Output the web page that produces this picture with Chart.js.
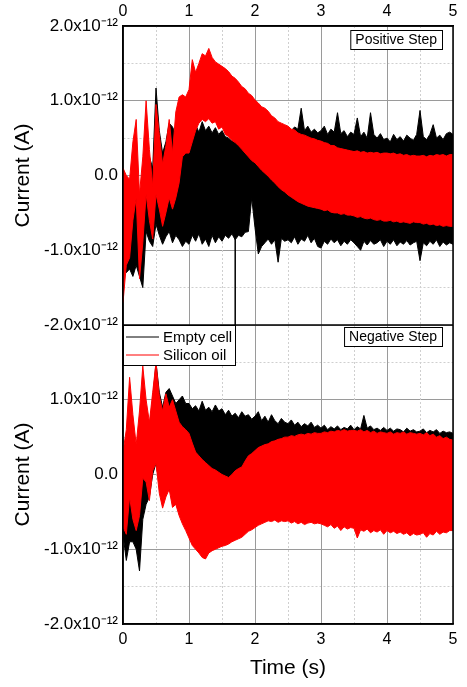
<!DOCTYPE html>
<html lang="en">
<head>
<meta charset="UTF-8">
<title>Current vs time</title>
<script src="https://cdn.jsdelivr.net/npm/chart.js"></script>
<style>
  html, body { margin: 0; padding: 0; background: #fff; }
</style>
</head>
<body>
<canvas id="grafico" width="467" height="687"></canvas>
<script>
// time (s)
const tempo = [
  0.00, 0.05, 0.10, 0.15, 0.20, 0.25, 0.30, 0.35, 0.40, 0.45,
  0.50, 0.55, 0.60, 0.65, 0.70, 0.75, 0.80, 0.85, 0.90, 0.95,
  1.00, 1.05, 1.10, 1.15, 1.20, 1.25, 1.30, 1.35, 1.40, 1.45,
  1.50, 1.55, 1.60, 1.65, 1.70, 1.75, 1.80, 1.85, 1.90, 1.95,
  2.00, 2.05, 2.10, 2.15, 2.20, 2.25, 2.30, 2.35, 2.40, 2.45,
  2.50, 2.55, 2.60, 2.65, 2.70, 2.75, 2.80, 2.85, 2.90, 2.95,
  3.00, 3.05, 3.10, 3.15, 3.20, 3.25, 3.30, 3.35, 3.40, 3.45,
  3.50, 3.55, 3.60, 3.65, 3.70, 3.75, 3.80, 3.85, 3.90, 3.95,
  4.00, 4.05, 4.10, 4.15, 4.20, 4.25, 4.30, 4.35, 4.40, 4.45,
  4.50, 4.55, 4.60, 4.65, 4.70, 4.75, 4.80, 4.85, 4.90, 4.95,
  5.00
];

// currents in units of 1e-12 A: upper / lower edge of each noisy trace
// positive step - empty cell
const posEmptyHi = [
  0.05, -0.10, -0.20, -0.10, 0.05, -0.30, -0.20, 0.30, 0.25, 0.10,
  1.17, 0.60, 0.30, 0.45, 0.70, 0.65, 0.55, 0.50, 0.55, 0.62,
  0.70, 0.62, 0.68, 0.58, 0.72, 0.60, 0.66, 0.57, 0.64, 0.55,
  0.60, 0.52, 0.50, 0.46, 0.48, 0.42, 0.40, 0.38, 0.36, 0.34,
  0.35, 0.33, 0.38, 0.40, 0.42, 0.45, 0.48, 0.50, 0.52, 0.55,
  0.55, 0.60, 0.65, 0.62, 0.90, 0.60, 0.66, 0.58, 0.62, 0.57,
  0.60, 0.66, 0.55, 0.62, 0.58, 0.84, 0.56, 0.60, 0.52, 0.58,
  0.55, 0.77, 0.52, 0.58, 0.50, 0.84, 0.55, 0.50, 0.56, 0.48,
  0.50, 0.45, 0.55, 0.48, 0.52, 0.46, 0.54, 0.50, 0.47, 0.55,
  0.87, 0.52, 0.48, 0.55, 0.68, 0.50, 0.54, 0.48, 0.56, 0.58,
  0.55
];
const posEmptyLo = [
  -1.20, -1.30, -1.25, -1.35, -1.20, -1.35, -1.50, -0.75, -0.88, -0.95,
  -0.65, -0.80, -0.92, -0.82, -0.75, -0.90, -0.80, -0.86, -0.95, -0.88,
  -0.92, -0.80, -0.88, -0.78, -0.92, -0.85, -0.95, -0.80, -0.90, -0.82,
  -0.88, -0.80, -0.84, -0.78, -0.86, -0.80, -0.82, -0.76, -0.75, -0.30,
  -0.70, -1.05, -0.95, -0.90, -0.85, -0.92, -0.86, -1.16, -0.84, -0.88,
  -0.86, -0.90, -0.82, -0.92, -0.85, -0.88, -0.80, -0.90, -0.84, -0.95,
  -0.97, -0.88, -0.92, -0.85, -0.90, -0.86, -0.94, -0.88, -0.92, -0.86,
  -0.90, -0.95, -1.00, -0.88, -0.93, -0.87, -0.92, -0.90, -0.86, -0.95,
  -0.88, -0.92, -0.86, -0.94, -0.89, -0.92, -0.87, -0.93, -0.90, -0.88,
  -1.14, -0.90, -0.94, -0.88, -0.92, -0.86, -0.95, -0.89, -0.93, -0.90,
  -0.92
];
// single spike of the empty cell trace at 1.7 s
const glitchT = [1.70, 1.70];
const glitchV = [-0.85, -2.00];

// positive step - silicon oil
const posOilHi = [
  0.10, 0.00, -0.05, 0.45, 0.75, -0.25, 0.25, 1.00, 0.35, -0.15,
  0.95, 0.55, 0.15, 0.40, 0.75, 0.30, 0.85, 1.05, 1.08, 1.05,
  1.15, 1.55, 1.38, 1.50, 1.63, 1.60, 1.70, 1.58, 1.52, 1.49,
  1.46, 1.43, 1.39, 1.33, 1.30, 1.25, 1.19, 1.16, 1.10, 1.07,
  1.01, 0.97, 0.92, 0.90, 0.86, 0.80, 0.77, 0.72, 0.70, 0.68,
  0.66, 0.62, 0.61, 0.57, 0.55, 0.54, 0.52, 0.50, 0.49, 0.47,
  0.46, 0.44, 0.43, 0.40, 0.40, 0.37, 0.36, 0.35, 0.34, 0.33,
  0.32, 0.33, 0.31, 0.32, 0.30, 0.31, 0.30, 0.31, 0.29, 0.30,
  0.30, 0.29, 0.30, 0.28, 0.29, 0.27, 0.28, 0.26, 0.27, 0.26,
  0.26, 0.27, 0.25, 0.27, 0.26, 0.28, 0.27, 0.28, 0.26, 0.28,
  0.28
];
const posOilLo = [
  -1.70, -1.20, -1.10, -0.60, -0.30, -1.38, -0.90, -0.25, -0.60, -0.85,
  -0.25, -0.45, -0.68, -0.50, -0.30, -0.45, -0.30, -0.10, 0.25, 0.30,
  0.30, 0.45, 0.60, 0.70, 0.75, 0.72, 0.76, 0.70, 0.72, 0.62,
  0.65, 0.55, 0.52, 0.47, 0.44, 0.40, 0.35, 0.30, 0.25, 0.20,
  0.17, 0.12, 0.07, 0.03, -0.01, -0.06, -0.10, -0.15, -0.19, -0.22,
  -0.26, -0.29, -0.32, -0.35, -0.37, -0.39, -0.41, -0.42, -0.43, -0.44,
  -0.45, -0.47, -0.46, -0.49, -0.50, -0.50, -0.52, -0.51, -0.53, -0.53,
  -0.54, -0.56, -0.55, -0.57, -0.58, -0.57, -0.59, -0.60, -0.59, -0.61,
  -0.61, -0.60, -0.62, -0.61, -0.63, -0.62, -0.63, -0.64, -0.62, -0.63,
  -0.63, -0.65, -0.64, -0.66, -0.65, -0.67, -0.66, -0.68, -0.67, -0.68,
  -0.68
];

// negative step - empty cell
const negEmptyHi = [
  0.30, 0.20, 0.60, 0.50, 0.20, 0.10, 0.80, 0.70, 0.60, 1.00,
  1.50, 1.10, 0.90, 1.10, 1.15, 1.05, 0.95, 1.00, 1.05, 0.95,
  0.95, 0.88, 0.92, 0.85, 0.98, 0.86, 0.90, 0.84, 0.93, 0.85,
  0.88, 0.80, 0.86, 0.78, 0.82, 0.76, 0.84, 0.78, 0.80, 0.74,
  0.78, 0.84, 0.72, 0.78, 0.70, 0.80, 0.72, 0.68, 0.75, 0.70,
  0.68, 0.73, 0.66, 0.70, 0.64, 0.68, 0.65, 0.70, 0.63, 0.66,
  0.62, 0.66, 0.60, 0.64, 0.61, 0.65, 0.60, 0.63, 0.61, 0.66,
  0.60, 0.64, 0.61, 0.79, 0.62, 0.65, 0.60, 0.62, 0.59, 0.63,
  0.59, 0.62, 0.58, 0.61, 0.60, 0.57, 0.62, 0.58, 0.60, 0.57,
  0.58, 0.61, 0.56, 0.59, 0.57, 0.60, 0.55, 0.58, 0.56, 0.57,
  0.55
];
const negEmptyLo = [
  -0.80, -1.15, -0.90, -0.90, -1.00, -1.29, -0.60, -0.40, -0.30, 0.00,
  0.15, -0.10, -0.30, -0.25, -0.20, -0.30, -0.40, -0.40, -0.45, -0.50,
  -0.50, -0.55, -0.52, -0.55, -0.50, -0.52, -0.55, -0.50, -0.53, -0.50,
  -0.52, -0.55, -0.50, -0.53, -0.55, -0.52, -0.54, -0.56, -0.55, -0.57,
  -0.56, -0.58, -0.55, -0.57, -0.58, -0.56, -0.59, -0.57, -0.58, -0.60,
  -0.58, -0.60, -0.59, -0.61, -0.60, -0.58, -0.61, -0.60, -0.62, -0.60,
  -0.62, -0.60, -0.63, -0.61, -0.64, -0.62, -0.63, -0.65, -0.62, -0.64,
  -0.63, -0.65, -0.64, -0.66, -0.63, -0.65, -0.67, -0.64, -0.66, -0.65,
  -0.66, -0.68, -0.65, -0.67, -0.69, -0.66, -0.68, -0.70, -0.67, -0.69,
  -0.68, -0.70, -0.72, -0.69, -0.71, -0.70, -0.73, -0.75, -0.72, -0.74,
  -0.71
];

// negative step - silicon oil
const negOilHi = [
  0.30, 0.60, 1.30, 0.80, 0.40, 0.85, 1.45, 1.00, 0.70, 1.10,
  1.50, 1.05, 0.85, 1.08, 0.90, 1.00, 0.85, 0.70, 0.64, 0.60,
  0.55, 0.42, 0.30, 0.25, 0.20, 0.16, 0.12, 0.08, 0.06, 0.03,
  0.00, -0.02, -0.04, 0.00, 0.05, 0.08, 0.10, 0.18, 0.25, 0.28,
  0.32, 0.36, 0.38, 0.40, 0.41, 0.44, 0.45, 0.47, 0.48, 0.50,
  0.50, 0.52, 0.51, 0.53, 0.54, 0.53, 0.55, 0.54, 0.56, 0.55,
  0.55, 0.57, 0.56, 0.58, 0.57, 0.59, 0.58, 0.60, 0.58, 0.59,
  0.59, 0.58, 0.60, 0.57, 0.59, 0.56, 0.58, 0.55, 0.57, 0.56,
  0.55, 0.57, 0.54, 0.56, 0.55, 0.57, 0.54, 0.56, 0.55, 0.54,
  0.55, 0.53, 0.56, 0.52, 0.54, 0.50, 0.52, 0.48, 0.50, 0.47,
  0.46
];
const negOilLo = [
  -0.70, -0.80, -0.30, -0.60, -0.75, -0.55, -0.05, -0.10, -0.35, 0.05,
  0.15, -0.25, -0.45, -0.30, -0.20, -0.44, -0.40, -0.55, -0.66, -0.75,
  -0.85, -0.95, -1.00, -1.05, -1.11, -1.13, -1.05, -1.02, -1.00, -0.98,
  -0.96, -0.95, -0.93, -0.90, -0.88, -0.86, -0.84, -0.80, -0.76, -0.74,
  -0.71, -0.68, -0.66, -0.64, -0.62, -0.63, -0.61, -0.64, -0.62, -0.63,
  -0.62, -0.65, -0.63, -0.66, -0.64, -0.67, -0.65, -0.64, -0.66, -0.65,
  -0.66, -0.68, -0.70, -0.67, -0.72, -0.69, -0.75, -0.70, -0.73, -0.71,
  -0.72, -0.85, -0.74, -0.76, -0.73, -0.78, -0.75, -0.77, -0.74, -0.80,
  -0.75, -0.78, -0.76, -0.79, -0.77, -0.80, -0.78, -0.82, -0.79, -0.81,
  -0.80, -0.78, -0.84, -0.79, -0.81, -0.76, -0.80, -0.77, -0.78, -0.75,
  -0.75
];

const series = ['Empty cell', 'Silicon oil'];
const cores = ['#000000', '#ff0000'];
const fonte = 'Liberation Sans, Arial, sans-serif';

function pontos(xs, ys) {
  return xs.map((t, i) => ({x: t, y: ys[i]}));
}

// noisy trace drawn as the band between its upper and lower edge
function faixa(nome, hi, lo, cor, eixo, ordem) {
  const base = {label: nome, borderColor: cor, backgroundColor: cor, borderWidth: 1,
                xAxisID: 'x', yAxisID: eixo, order: ordem, pointRadius: 0};
  return [
    Object.assign({}, base, {data: pontos(tempo, hi), fill: '+1'}),
    Object.assign({}, base, {data: pontos(tempo, lo), fill: false})
  ];
}

function rotuloY(v) {
  if (v === 0) return '0.0';
  return v.toFixed(1) + 'x10\u207B\u00B9\u00B2';
}

function gradeCor(ctx) {
  if (!ctx.tick) return '#000';
  return Number.isInteger(ctx.tick.value) ? '#9a9a9a' : '#cfcfcf';
}
function gradeTraco(ctx) {
  if (!ctx.tick) return [];
  return Number.isInteger(ctx.tick.value) ? [] : [2, 2];
}

function eixoY(esconder2) {
  return {
    type: 'linear', axis: 'y', position: 'left', stack: 'paineis', stackWeight: 1,
    min: -2, max: 2,
    afterFit: s => { s.width = 123; },
    ticks: {
      stepSize: 0.5, autoSkip: false, padding: 5, color: '#000',
      font: {family: fonte, size: 17},
      callback: v => (!Number.isInteger(v) || (esconder2 && v === 2)) ? '' : rotuloY(v)
    },
    grid: {color: gradeCor, lineWidth: 1, drawTicks: false},
    border: {color: '#000', width: 1.5, dash: gradeTraco},
    title: {display: true, text: 'Current (A)', color: '#000',
            font: {family: fonte, size: 21}, padding: {top: 11, bottom: 0}}
  };
}

function caixaTexto(ctx, texto, direita, topo) {
  ctx.font = '14px ' + fonte;
  const w = ctx.measureText(texto).width + 10;
  const h = 19;
  ctx.fillStyle = '#fff';
  ctx.fillRect(direita - w, topo, w, h);
  ctx.strokeStyle = '#000';
  ctx.lineWidth = 1;
  ctx.strokeRect(direita - w + 0.5, topo + 0.5, w, h);
  ctx.fillStyle = '#000';
  ctx.textBaseline = 'middle';
  ctx.textAlign = 'left';
  ctx.fillText(texto, direita - w + 5, topo + h / 2 + 1);
}

const moldura = {
  id: 'moldura',
  afterDatasetsDraw(chart) {
    const {ctx, chartArea: a} = chart;
    const yTop = chart.scales.yTop, yBot = chart.scales.yBot;
    ctx.save();
    ctx.strokeStyle = '#000';
    ctx.lineWidth = 1.5;
    ctx.strokeRect(a.left, a.top, a.right - a.left, a.bottom - a.top);
    ctx.beginPath();
    ctx.moveTo(a.left, yTop.bottom);
    ctx.lineTo(a.right, yTop.bottom);
    ctx.stroke();

    caixaTexto(ctx, 'Positive Step', a.right - 11, yTop.top + 4);
    caixaTexto(ctx, 'Negative Step', a.right - 11, yBot.top + 2);

    // legend in the lower panel
    const lx = a.left, ly = yBot.top;
    ctx.fillStyle = '#fff';
    ctx.fillRect(lx, ly, 112, 40);
    ctx.strokeStyle = '#000';
    ctx.lineWidth = 1;
    ctx.strokeRect(lx + 0.5, ly + 0.5, 112, 40);
    ctx.font = '15px ' + fonte;
    ctx.textBaseline = 'middle';
    ctx.textAlign = 'left';
    series.forEach((nome, i) => {
      const yy = ly + 12 + i * 18;
      ctx.strokeStyle = cores[i];
      ctx.lineWidth = 1;
      ctx.beginPath();
      ctx.moveTo(lx + 3, yy);
      ctx.lineTo(lx + 36, yy);
      ctx.stroke();
      ctx.fillStyle = '#000';
      ctx.fillText(nome, lx + 40, yy + 1);
    });
    ctx.restore();
  }
};

const datasets = [].concat(
  faixa(series[1], posOilHi, posOilLo, cores[1], 'yTop', 0),
  faixa(series[0], posEmptyHi, posEmptyLo, cores[0], 'yTop', 1),
  [{label: series[0], data: pontos(glitchT, glitchV), borderColor: cores[0], borderWidth: 1.5,
    xAxisID: 'x', yAxisID: 'yTop', order: 1, pointRadius: 0, fill: false}],
  faixa(series[1], negOilHi, negOilLo, cores[1], 'yBot', 0),
  faixa(series[0], negEmptyHi, negEmptyLo, cores[0], 'yBot', 1)
);

const ctx = document.getElementById('grafico').getContext('2d');
new Chart(ctx, {
  type: 'line',
  data: {datasets: datasets},
  options: {
    responsive: false,
    animation: false,
    normalized: true,
    layout: {padding: {left: 0, right: 14, top: 0, bottom: 0}},
    elements: {line: {tension: 0}},
    plugins: {legend: {display: false}, tooltip: {enabled: false}},
    scales: {
      yBot: eixoY(true),
      yTop: eixoY(false),
      x: {
        type: 'linear', axis: 'x', position: 'bottom', min: 0, max: 5,
        afterFit: s => { s.height = 63; },
        ticks: {stepSize: 0.5, autoSkip: false, maxRotation: 0, padding: 6, color: '#000',
                font: {family: fonte, size: 16},
                callback: v => Number.isInteger(v) ? String(v) : ''},
        grid: {color: gradeCor, lineWidth: 1, drawTicks: false},
        border: {color: '#000', width: 1.5, dash: gradeTraco},
        title: {display: true, text: 'Time (s)', color: '#000',
                font: {family: fonte, size: 21}, padding: {top: 0, bottom: 6}}
      },
      x2: {
        type: 'linear', axis: 'x', position: 'top', min: 0, max: 5,
        afterFit: s => { s.height = 26; },
        ticks: {stepSize: 0.5, autoSkip: false, maxRotation: 0, padding: 5, color: '#000',
                font: {family: fonte, size: 16},
                callback: v => Number.isInteger(v) ? String(v) : ''},
        grid: {display: false, drawTicks: false},
        border: {color: '#000', width: 1.5}
      }
    }
  },
  plugins: [moldura]
});
</script>
</body>
</html>
